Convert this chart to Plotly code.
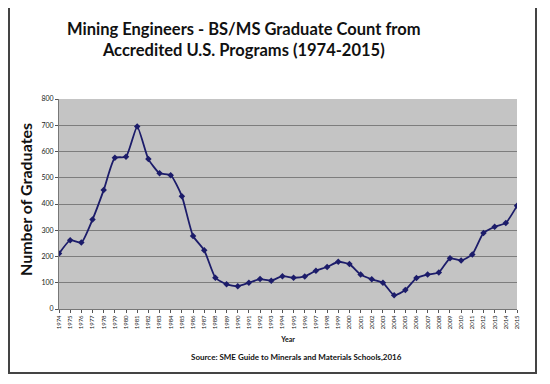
import plotly.graph_objects as go

years = list(range(1974, 2016))
graduates = [211, 262, 253, 341, 453, 576, 580, 695, 571, 517, 510, 430, 278, 224,
             119, 94, 87, 100, 114, 108, 125, 119, 124, 146, 160, 180, 171, 131,
             113, 100, 52, 72, 118, 131, 139, 193, 185, 208, 290, 313, 328, 393]
y_ticks = list(range(0, 900, 100))

FONT = "Lato"
# the page body adds an 8px offset; lay the figure out so it lands where the reference is
OFF = 8
L, T, R, B = 59, 99, 517, 309   # plot area in page pixels
PW, PH = R - L, B - T


def px(x):
    return (x - L) / PW


def py(y):
    return (B - y) / PH


fig = go.Figure()
fig.add_trace(go.Scatter(
    x=years, y=graduates, mode="lines+markers",
    line=dict(color="#1c1c6a", width=1.8, shape="spline", smoothing=0.5),
    marker=dict(symbol="diamond", size=5, color="#1c1c6a"),
    showlegend=False,
))

fig.update_layout(
    width=550 - OFF, height=384 - OFF,
    margin=dict(l=L - OFF, r=550 - R, t=T - OFF, b=384 - B),
    paper_bgcolor="white",
    plot_bgcolor="#c4c4c4",
    font=dict(family=FONT, color="#111111"),
    xaxis=dict(
        range=[1974, 2015], tickmode="array", tickvals=years,
        ticktext=[str(y) for y in years], tickangle=-90, automargin=False,
        tickfont=dict(size=6, family=FONT, color="#222222"),
        ticks="outside", ticklen=3, tickcolor="#555555",
        showgrid=False, showline=True, linecolor="#777777", zeroline=False,
        title=dict(text="<b>Year</b>", font=dict(size=7, family=FONT), standoff=8),
    ),
    yaxis=dict(
        range=[0, 800], tickmode="array", tickvals=y_ticks, automargin=False,
        tickfont=dict(size=7, family=FONT, color="#222222"),
        ticks="outside", ticklen=3, tickcolor="#555555",
        showgrid=True, gridcolor="#7d7d7d", gridwidth=1,
        showline=True, linecolor="#777777", zeroline=False,
    ),
)

fig.update_yaxes(tickprefix="<b>", ticksuffix="</b>")
fig.update_xaxes(tickprefix="<b>", ticksuffix="</b>")

fig.add_annotation(
    text="<b>Number of Graduates</b>", textangle=-90,
    xref="paper", yref="paper", x=px(25), y=py(200),
    xanchor="center", yanchor="middle", showarrow=False,
    font=dict(size=16, family=FONT, color="#111111"),
)
fig.add_annotation(
    text="<b>Mining Engineers - BS/MS Graduate Count from<br>Accredited U.S. Programs (1974-2015)</b>",
    xref="paper", yref="paper", x=px(244), y=py(17),
    xanchor="center", yanchor="top", showarrow=False, align="center",
    font=dict(size=16.5, family=FONT, color="#111111"),
)
fig.add_annotation(
    text="<b>Source: SME Guide to Minerals and Materials Schools,2016</b>",
    xref="paper", yref="paper", x=px(296), y=py(357),
    xanchor="center", yanchor="middle", showarrow=False,
    font=dict(size=8, family=FONT, color="#111111"),
)
fig.add_shape(
    type="rect", xref="paper", yref="paper",
    x0=px(9), x1=px(536), y0=py(373), y1=py(6),
    line=dict(color="#444444", width=2), fillcolor="rgba(0,0,0,0)", layer="below",
)

fig.write_html("out.html")
